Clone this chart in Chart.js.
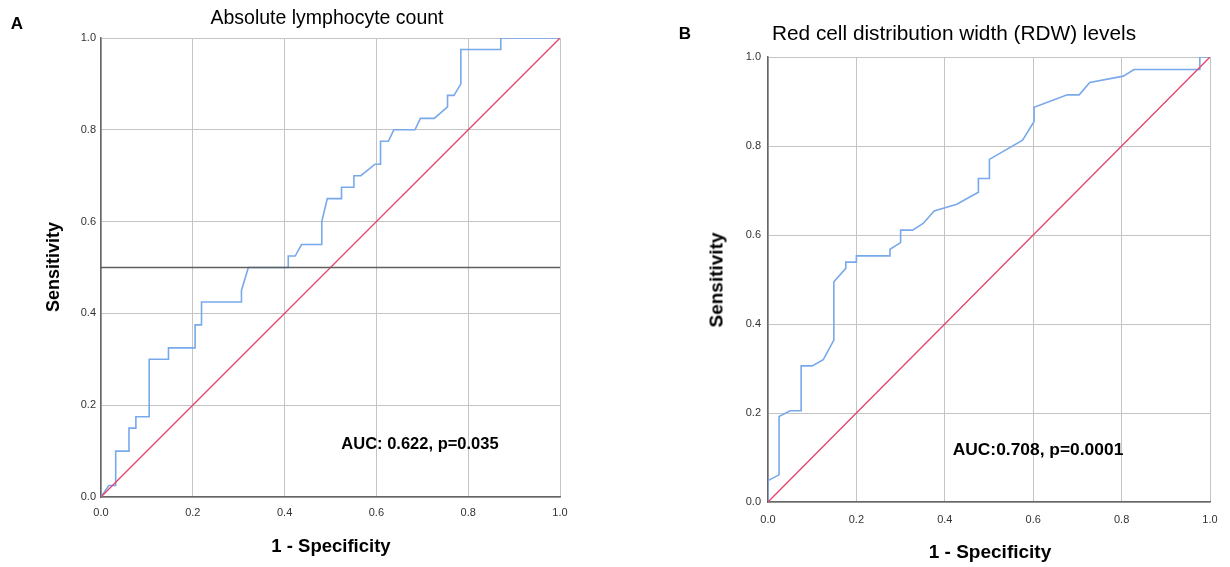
<!DOCTYPE html>
<html>
<head>
<meta charset="utf-8">
<script src="https://cdn.jsdelivr.net/npm/chart.js@4.4.0/dist/chart.umd.min.js"></script>
<style>
  html, body { margin: 0; padding: 0; background: #fff; }
  #wrap { position: relative; width: 1230px; height: 567px; overflow: hidden; font-family: "Liberation Sans", Arial, sans-serif; color: #000; }
  canvas { position: absolute; top: 0; }
  .t { position: absolute; white-space: nowrap; line-height: 1; }
  .c { transform: translate(-50%, -50%); }
  .rot { transform: translate(-50%, -50%) rotate(-90deg); }
  .b { font-weight: bold; }
</style>
</head>
<body>
<div id="wrap">
  <canvas id="cA" width="615" height="567" style="left:0;width:615px;height:567px"></canvas>
  <canvas id="cB" width="615" height="567" style="left:615px;width:615px;height:567px"></canvas>
  <div class="t b c" style="left:17px;top:23px;font-size:17px">A</div>
  <div class="t c" style="left:327px;top:18px;font-size:19.5px">Absolute lymphocyte count</div>
  <div class="t b rot" style="left:53px;top:267px;font-size:18px">Sensitivity</div>
  <div class="t b c" style="left:331px;top:546px;font-size:18.5px">1 - Specificity</div>
  <div class="t b c" style="left:420px;top:443px;font-size:16.5px">AUC: 0.622, p=0.035</div>

  <div class="t b c" style="left:685px;top:33px;font-size:17px">B</div>
  <div class="t c" style="left:954px;top:33px;font-size:20.8px">Red cell distribution width (RDW) levels</div>
  <div class="t b rot" style="left:716px;top:280px;font-size:19px">Sensitivity</div>
  <div class="t b c" style="left:990px;top:551px;font-size:19px">1 - Specificity</div>
  <div class="t b c" style="left:1038px;top:450px;font-size:17.4px">AUC:0.708, p=0.0001</div>
</div>
<script>
// Panel A: Absolute lymphocyte count ROC
const fprA = [0, 0.017, 0.032, 0.032, 0.061, 0.061, 0.076, 0.076, 0.105, 0.105, 0.147, 0.147, 0.205, 0.205, 0.219, 0.219, 0.306, 0.306, 0.321, 0.408, 0.408, 0.423, 0.437, 0.481, 0.481, 0.493, 0.524, 0.524, 0.551, 0.551, 0.566, 0.597, 0.609, 0.609, 0.626, 0.638, 0.684, 0.696, 0.726, 0.755, 0.755, 0.769, 0.784, 0.784, 0.871, 0.871, 1.0];
const tprA = [0, 0.025, 0.025, 0.100, 0.100, 0.150, 0.150, 0.175, 0.175, 0.300, 0.300, 0.325, 0.325, 0.375, 0.375, 0.425, 0.425, 0.450, 0.500, 0.500, 0.525, 0.525, 0.550, 0.550, 0.600, 0.650, 0.650, 0.675, 0.675, 0.700, 0.700, 0.725, 0.725, 0.775, 0.775, 0.800, 0.800, 0.825, 0.825, 0.850, 0.875, 0.875, 0.900, 0.975, 0.975, 1.0, 1.0];
// Panel B: RDW ROC
const fprB = [0, 0, 0.025, 0.025, 0.050, 0.075, 0.075, 0.100, 0.125, 0.149, 0.149, 0.176, 0.176, 0.200, 0.200, 0.276, 0.276, 0.300, 0.300, 0.327, 0.351, 0.376, 0.427, 0.476, 0.476, 0.501, 0.501, 0.576, 0.602, 0.602, 0.677, 0.704, 0.728, 0.804, 0.828, 0.977, 0.977, 1.0];
const tprB = [0, 0.048, 0.061, 0.192, 0.205, 0.205, 0.306, 0.306, 0.320, 0.364, 0.495, 0.525, 0.539, 0.539, 0.553, 0.553, 0.568, 0.583, 0.611, 0.611, 0.626, 0.654, 0.669, 0.696, 0.727, 0.727, 0.770, 0.813, 0.855, 0.887, 0.915, 0.915, 0.943, 0.957, 0.972, 0.972, 1.0, 1.0];
const refLevelA = 0.5;
const tickValues = [0, 0.2, 0.4, 0.6, 0.8, 1.0];

function pts(xs, ys) { return xs.map((x, i) => ({ x: x, y: ys[i] })); }

function makeChart(id, fpr, tpr, refLevel, geo) {
  const datasets = [];
  if (refLevel !== null) {
    datasets.push({ data: [{ x: 0, y: refLevel }, { x: 1, y: refLevel }], borderColor: '#5f5f5f', borderWidth: 1.6 });
  }
  datasets.push({ data: [{ x: 0, y: 0 }, { x: 1, y: 1 }], borderColor: '#e5426a', borderWidth: 1.3 });
  datasets.push({ data: pts(fpr, tpr), borderColor: '#78a9ea', borderWidth: 1.6 });
  datasets.forEach(d => { d.pointRadius = 0; d.tension = 0; d.fill = false; });

  const tickFont = { family: '"Liberation Sans", Arial, sans-serif', size: 11 };
  new Chart(document.getElementById(id), {
    type: 'line',
    data: { datasets: datasets },
    options: {
      responsive: false,
      animation: false,
      events: [],
      layout: { padding: { left: 0, top: geo.top, right: geo.right, bottom: 0 } },
      plugins: { legend: { display: false }, tooltip: { enabled: false }, title: { display: false } },
      scales: {
        x: {
          type: 'linear', min: 0, max: 1,
          afterBuildTicks: s => { s.ticks = tickValues.map(v => ({ value: v })); },
          afterFit: s => { s.height = geo.xh; },
          ticks: { callback: v => v.toFixed(1), color: '#333', font: tickFont, padding: geo.xpad, maxRotation: 0 },
          grid: { color: '#c4c4c4', lineWidth: 1, drawTicks: false },
          border: { color: '#666', width: 1.5 }
        },
        y: {
          type: 'linear', min: 0, max: 1,
          afterBuildTicks: s => { s.ticks = tickValues.map(v => ({ value: v })); },
          afterFit: s => { s.width = geo.left; },
          ticks: { callback: v => v.toFixed(1), color: '#333', font: tickFont, padding: geo.ypad },
          grid: { color: '#c4c4c4', lineWidth: 1, drawTicks: false },
          border: { color: '#666', width: 1.5 }
        }
      }
    }
  });
}

makeChart('cA', fprA, tprA, refLevelA, { left: 101, top: 38, right: 55, xh: 70, xpad: 9, ypad: 5 });
makeChart('cB', fprB, tprB, null, { left: 153, top: 57, right: 20, xh: 65, xpad: 11, ypad: 7 });
</script>
</body>
</html>
